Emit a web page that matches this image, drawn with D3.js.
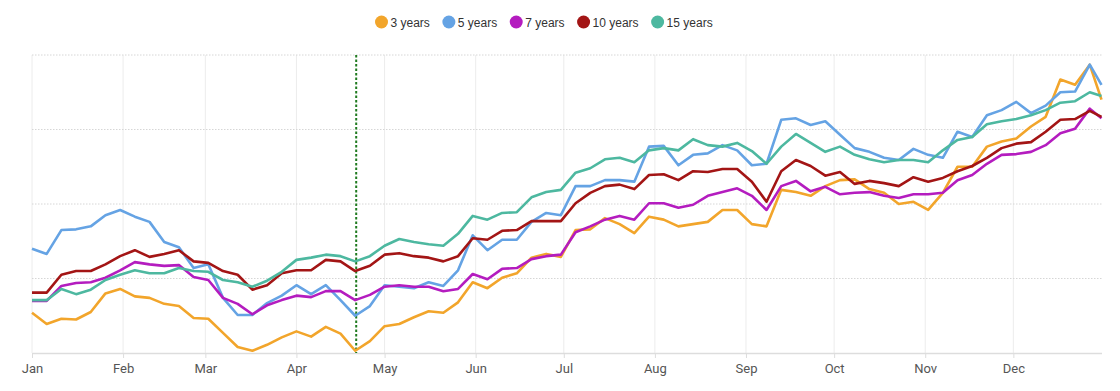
<!DOCTYPE html>
<html>
<head>
<meta charset="utf-8">
<script src="https://d3js.org/d3.v7.min.js"></script>
<style>
  body { margin: 0; background: #fff; }
  .xaxis path { stroke: #ddd; stroke-width: 1.5; }
  .xaxis line { stroke: #ddd; }
  .xaxis text { font-family: Roboto, "Liberation Sans", Arial, sans-serif; font-size: 13px; fill: #555; }
  .legend text { font-family: "Liberation Sans", Arial, sans-serif; font-size: 12px; fill: #333; }
</style>
</head>
<body>
<script>
// day offsets from Jan 1 (sampled every 5 days + year end)
var days = d3.range(0, 365, 5).concat([364]);

var seriesNames = ["3 years", "5 years", "7 years", "10 years", "15 years"];
var seriesColors = ["#f2a52b", "#65a3e4", "#b41cbf", "#a31515", "#4db8a0"];

var y3 = [0.54,0.39,0.46,0.45,0.55,0.80,0.86,0.76,0.74,0.66,0.63,0.47,0.46,0.27,0.08,0.03,0.11,0.21,0.29,0.22,
  0.35,0.26,0.03,0.16,0.36,0.39,0.48,0.56,0.54,0.68,0.95,0.87,1.01,1.07,1.28,1.33,1.29,1.65,1.66,1.81,
  1.73,1.61,1.83,1.79,1.70,1.73,1.76,1.92,1.92,1.73,1.70,2.19,2.16,2.11,2.24,2.32,2.33,2.20,2.15,2.00,
  2.03,1.92,2.15,2.50,2.50,2.77,2.84,2.88,3.04,3.17,3.67,3.60,3.87,3.40];
var y5 = [1.40,1.33,1.65,1.66,1.70,1.85,1.92,1.83,1.76,1.49,1.42,1.14,1.19,0.74,0.51,0.51,0.67,0.77,0.91,0.79,
  0.91,0.71,0.50,0.63,0.91,0.89,0.87,0.95,0.90,1.11,1.58,1.38,1.52,1.52,1.76,1.88,1.85,2.24,2.24,2.32,
  2.32,2.30,2.77,2.78,2.52,2.66,2.68,2.79,2.72,2.52,2.54,3.13,3.15,3.06,3.11,2.93,2.75,2.70,2.62,2.59,
  2.74,2.66,2.62,2.97,2.90,3.19,3.26,3.37,3.22,3.32,3.50,3.51,3.87,3.60];
var y7 = [0.70,0.70,0.90,0.94,0.95,1.01,1.11,1.22,1.19,1.17,1.18,1.02,0.98,0.74,0.66,0.52,0.64,0.71,0.77,0.75,
  0.83,0.83,0.71,0.78,0.89,0.91,0.89,0.89,0.83,0.86,1.06,0.99,1.13,1.14,1.26,1.30,1.32,1.62,1.70,1.79,
  1.84,1.79,2.01,2.01,1.95,1.99,2.11,2.16,2.21,2.11,1.92,2.24,2.31,2.17,2.23,2.13,2.15,2.16,2.11,2.08,
  2.13,2.13,2.15,2.32,2.39,2.54,2.66,2.67,2.70,2.79,2.95,3.01,3.28,3.15];
var y10 = [0.81,0.81,1.05,1.10,1.10,1.19,1.30,1.38,1.29,1.33,1.38,1.23,1.21,1.10,1.05,0.85,0.91,1.07,1.11,1.11,
  1.25,1.23,1.10,1.17,1.32,1.34,1.30,1.28,1.23,1.30,1.54,1.52,1.64,1.65,1.77,1.77,1.77,2.01,2.15,2.24,
  2.26,2.20,2.39,2.40,2.32,2.44,2.43,2.47,2.47,2.30,2.03,2.44,2.59,2.51,2.38,2.43,2.27,2.31,2.28,2.24,
  2.36,2.30,2.35,2.44,2.51,2.62,2.75,2.81,2.83,2.97,3.13,3.14,3.25,3.17];
var y15 = [0.71,0.71,0.86,0.79,0.85,0.98,1.05,1.11,1.07,1.07,1.14,1.10,1.09,0.98,0.95,0.89,0.97,1.09,1.25,1.28,
  1.32,1.30,1.23,1.30,1.44,1.53,1.49,1.46,1.44,1.60,1.84,1.79,1.88,1.89,2.09,2.16,2.19,2.42,2.48,2.60,
  2.62,2.56,2.72,2.75,2.72,2.87,2.79,2.77,2.82,2.71,2.54,2.77,2.94,2.82,2.70,2.77,2.66,2.60,2.56,2.59,
  2.59,2.56,2.72,2.86,2.90,3.07,3.11,3.14,3.19,3.26,3.36,3.38,3.50,3.45];

var yTicks = [0, 1, 2, 3, 4];
var markerDay = "2023-04-21";

var allSeries = [y3, y5, y7, y10, y15];

var width = 1120, height = 391;
var svg = d3.select("body").append("svg")
  .attr("width", width)
  .attr("height", height);

var start = new Date(2023, 0, 1);
var dates = days.map(function(d) { return d3.timeDay.offset(start, d); });

var x = d3.scaleTime()
  .domain([start, new Date(2023, 11, 31)])
  .range([32, 1101.5]);
var y = d3.scaleLinear()
  .domain([0, 4])
  .range([353, 55]);

// vertical grid at months
svg.append("g").selectAll("line")
  .data(d3.timeMonth.range(start, new Date(2024, 0, 1)))
  .enter().append("line")
  .attr("x1", function(d) { return x(d); })
  .attr("x2", function(d) { return x(d); })
  .attr("y1", y(4))
  .attr("y2", y(0))
  .attr("stroke", "#ececec")
  .attr("stroke-width", 1);

// horizontal dotted grid
svg.append("g").selectAll("line")
  .data(yTicks.slice(1))
  .enter().append("line")
  .attr("x1", 32)
  .attr("x2", 1101.5)
  .attr("y1", function(d) { return y(d); })
  .attr("y2", function(d) { return y(d); })
  .attr("stroke", "#d6d6d6")
  .attr("stroke-width", 1)
  .attr("stroke-dasharray", "1.5,1.5");

// x axis
var xAxis = d3.axisBottom(x)
  .ticks(d3.timeMonth.every(1))
  .tickFormat(d3.timeFormat("%b"))
  .tickSize(5)
  .tickSizeOuter(0)
  .tickPadding(6);
svg.append("g")
  .attr("class", "xaxis")
  .attr("transform", "translate(0," + y(0) + ")")
  .call(xAxis);

// marker line
var md = d3.timeParse("%Y-%m-%d")(markerDay);
svg.append("line")
  .attr("x1", x(md) + 1)
  .attr("x2", x(md) + 1)
  .attr("y1", y(4))
  .attr("y2", y(0))
  .attr("stroke", "#1f7a1f")
  .attr("stroke-width", 2)
  .attr("stroke-dasharray", "2.5,2");

var line = d3.line()
  .x(function(d, i) { return x(dates[i]); })
  .y(function(d) { return y(d); });

svg.append("g").selectAll("path")
  .data(allSeries)
  .enter().append("path")
  .attr("d", line)
  .attr("fill", "none")
  .attr("stroke", function(d, i) { return seriesColors[i]; })
  .attr("stroke-width", 2.6)
  .attr("stroke-linejoin", "round");

// legend
var legend = svg.append("g").attr("class", "legend");
var lx = 381.5;
seriesNames.forEach(function(name, i) {
  legend.append("circle")
    .attr("cx", lx)
    .attr("cy", 22)
    .attr("r", 6.5)
    .attr("fill", seriesColors[i]);
  var t = legend.append("text")
    .attr("x", lx + 9)
    .attr("y", 26.5)
    .text(name);
  lx = lx + 9 + t.node().getComputedTextLength() + 19;
});
</script>
</body>
</html>
